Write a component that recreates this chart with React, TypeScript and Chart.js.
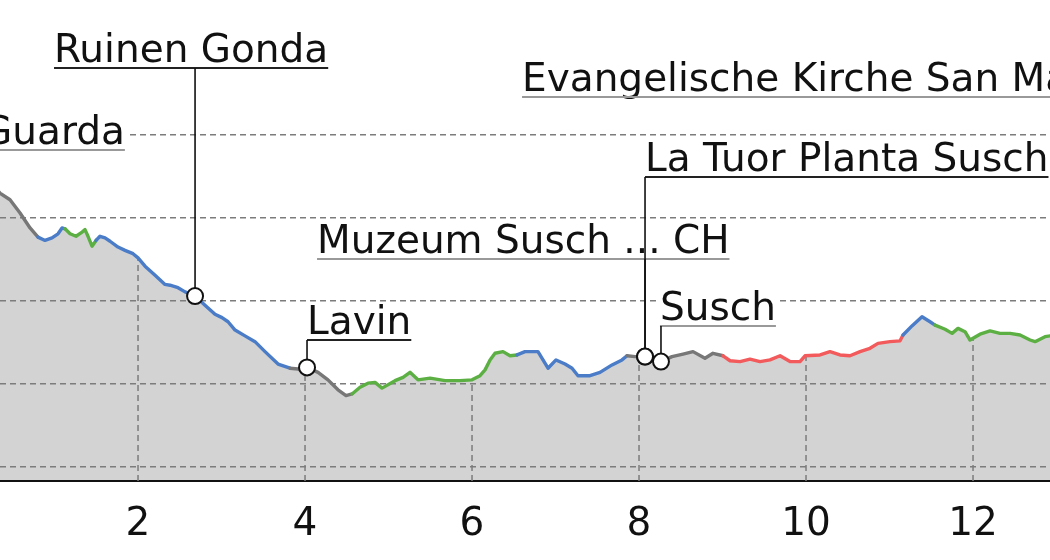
import React, { useEffect, useRef } from 'react';
import { Chart, registerables } from 'chart.js';

Chart.register(...registerables);

// Elevation profile: distance along the route (km) and elevation (m)
const distanceKm = [
  0.299, 0.347, 0.467, 0.587, 0.707, 0.802, 0.886, 0.970, 1.042, 1.090,
  1.126, 1.186, 1.257, 1.317, 1.365, 1.401, 1.449, 1.497, 1.545, 1.605,
  1.665, 1.760, 1.844, 1.940, 2.000, 2.084, 2.204, 2.323, 2.383, 2.479,
  2.563, 2.683, 2.802, 2.922, 3.006, 3.078, 3.162, 3.281, 3.401, 3.521,
  3.677, 3.820, 3.916, 4.024, 4.156, 4.275, 4.395, 4.491, 4.563, 4.659,
  4.754, 4.838, 4.922, 5.078, 5.174, 5.257, 5.353, 5.497, 5.677, 5.856,
  6.000, 6.096, 6.156, 6.216, 6.275, 6.371, 6.455, 6.539, 6.635, 6.790,
  6.910, 7.006, 7.114, 7.198, 7.269, 7.413, 7.533, 7.677, 7.796, 7.856,
  7.952, 8.072, 8.263, 8.395, 8.527, 8.647, 8.790, 8.886, 9.006, 9.090,
  9.210, 9.329, 9.449, 9.569, 9.689, 9.808, 9.928, 9.988, 10.168, 10.287,
  10.407, 10.527, 10.647, 10.766, 10.862, 11.006, 11.126, 11.162, 11.269, 11.389,
  11.485, 11.545, 11.665, 11.749, 11.820, 11.904, 11.964, 12.084, 12.204, 12.323,
  12.443, 12.563, 12.683, 12.743, 12.862, 12.982,
];
const elevationM = [
  1636, 1630, 1622, 1606, 1588, 1577, 1573, 1576, 1581, 1588,
  1587, 1581, 1578, 1582, 1586, 1578, 1566, 1573, 1578, 1576,
  1572, 1565, 1561, 1557, 1552, 1542, 1531, 1520, 1519, 1516,
  1511, 1506, 1495, 1484, 1480, 1475, 1465, 1458, 1451, 1439,
  1424, 1419, 1418, 1420, 1414, 1405, 1393, 1386, 1388, 1396,
  1401, 1402, 1395, 1404, 1408, 1414, 1405, 1407, 1404, 1404,
  1405, 1410, 1417, 1429, 1437, 1439, 1434, 1435, 1439, 1439,
  1419, 1429, 1424, 1419, 1410, 1410, 1414, 1423, 1429, 1434,
  1433, 1433, 1427, 1433, 1436, 1439, 1431, 1437, 1434, 1428,
  1427, 1430, 1427, 1429, 1434, 1427, 1427, 1434, 1435, 1439,
  1435, 1434, 1439, 1443, 1449, 1451, 1452, 1459, 1470, 1481,
  1475, 1471, 1466, 1461, 1467, 1463, 1453, 1460, 1464, 1461,
  1461, 1459, 1453, 1451, 1457, 1459,
];

// Surface / gradient classes along the route (start km of each stretch)
const segmentStartKm = [0.0, 0.802, 1.126, 1.497, 3.820, 4.563, 6.539, 7.856, 9.006, 11.162, 11.545];
const segmentClass = ['gray', 'blue', 'green', 'blue', 'gray', 'green', 'blue', 'gray', 'red', 'blue', 'green'];

// Points of interest
const poiNames = [
  'Guarda',
  'Ruinen Gonda',
  'Evangelische Kirche San Mauritius',
  'La Tuor Planta Susch',
  'Muzeum Susch ... CH',
  'Lavin',
  'Susch',
];
const poiKm = [0.05, 2.683, 13.6, 8.072, 8.072, 4.024, 8.263];
const poiElev = [1660, 1506, 1465, 1433, 1433, 1420, 1427];
// where each label's underline starts (data units)
const labelKm = [0.132, 0.994, 6.599, 8.072, 4.144, 4.024, 8.251];
const labelElev = [1681.9, 1780.7, 1745.8, 1649.4, 1550.6, 1453.0, 1469.9];
const labelMuted = [true, false, true, false, true, false, true];

const xTickValues = [2, 4, 6, 8, 10, 12];
const yGridValues = [1300, 1400, 1500, 1600, 1700];

const lineColors: Record<string, string> = {
  gray: '#777777',
  blue: '#4a7cc8',
  green: '#5cb043',
  red: '#f25a5c',
};

function classAt(km: number): string {
  let c = segmentClass[0];
  for (let i = 0; i < segmentStartKm.length; i++) {
    if (km >= segmentStartKm[i] - 1e-9) c = segmentClass[i];
  }
  return c;
}

function elevAt(km: number): number {
  for (let i = 0; i < distanceKm.length - 1; i++) {
    const a = distanceKm[i];
    const b = distanceKm[i + 1];
    if (km >= a && km <= b) {
      const t = (km - a) / (b - a);
      return elevationM[i] + t * (elevationM[i + 1] - elevationM[i]);
    }
  }
  return elevationM[elevationM.length - 1];
}

const FONT = '39px "DejaVu Sans", sans-serif';
const MARKER_R = 8;
const GRID_COLOR = '#7c7c7c';

const profilePlugin = {
  id: 'profileDecor',
  beforeDatasetsDraw(chart: any) {
    const { ctx, chartArea } = chart;
    const xs = chart.scales.x;
    const ys = chart.scales.y;
    ctx.save();
    ctx.beginPath();
    ctx.rect(chartArea.left, chartArea.top, chartArea.right - chartArea.left, chartArea.bottom - chartArea.top);
    ctx.clip();
    ctx.setLineDash([6, 4]);
    ctx.strokeStyle = GRID_COLOR;
    ctx.lineWidth = 1.5;
    for (const t of xTickValues) {
      const px = xs.getPixelForValue(t);
      const py = ys.getPixelForValue(elevAt(t));
      ctx.beginPath();
      ctx.moveTo(px, chartArea.bottom);
      ctx.lineTo(px, py);
      ctx.stroke();
    }
    ctx.restore();
  },
  afterDatasetsDraw(chart: any) {
    const { ctx } = chart;
    const xs = chart.scales.x;
    const ys = chart.scales.y;
    ctx.save();
    ctx.font = FONT;
    ctx.textBaseline = 'alphabetic';
    ctx.textAlign = 'left';
    const anchors: { mx: number; my: number; uy: number }[] = [];
    for (let i = 0; i < poiNames.length; i++) {
      const ox = xs.getPixelForValue(labelKm[i]);
      const uy = ys.getPixelForValue(labelElev[i]);
      const mx = xs.getPixelForValue(poiKm[i]);
      const my = ys.getPixelForValue(poiElev[i]);
      const w = ctx.measureText(poiNames[i]).width;
      const base = uy - 6;
      ctx.fillStyle = '#ffffff';
      ctx.fillRect(ox - 2, base - 30, w + 4, 30 + 6);
      ctx.fillStyle = '#111111';
      ctx.fillText(poiNames[i], ox, base);
      ctx.strokeStyle = labelMuted[i] ? '#999999' : '#222222';
      ctx.lineWidth = 2;
      ctx.setLineDash([]);
      ctx.beginPath();
      ctx.moveTo(Math.min(ox, mx), uy);
      ctx.lineTo(Math.max(ox + w, mx), uy);
      ctx.stroke();
      anchors.push({ mx, my, uy });
    }
    ctx.strokeStyle = '#111111';
    ctx.lineWidth = 1.6;
    for (const a of anchors) {
      ctx.beginPath();
      ctx.moveTo(a.mx, a.uy);
      ctx.lineTo(a.mx, a.my - MARKER_R);
      ctx.stroke();
    }
    ctx.restore();
  },
};

export default function App() {
  const ref = useRef<HTMLCanvasElement | null>(null);

  useEffect(() => {
    if (!ref.current) return;
    const profile = distanceKm.map((k, i) => ({ x: k, y: elevationM[i] }));
    const markers = poiKm.map((k, i) => ({ x: k, y: poiElev[i] }));
    const chart = new Chart(ref.current, {
      type: 'line',
      data: {
        datasets: [
          {
            label: 'poi',
            data: markers,
            order: 1,
            showLine: false,
            fill: false,
            pointRadius: MARKER_R,
            pointBackgroundColor: '#ffffff',
            pointBorderColor: '#111111',
            pointBorderWidth: 2,
          } as any,
          {
            label: 'profile',
            data: profile,
            order: 2,
            borderWidth: 3.4,
            borderJoinStyle: 'round',
            borderCapStyle: 'round',
            pointRadius: 0,
            tension: 0,
            fill: false,
            borderColor: lineColors.gray,
            segment: {
              borderColor: (c: any) => lineColors[classAt(distanceKm[c.p0DataIndex])],
            },
          } as any,
          {
            label: 'terrain',
            data: profile,
            order: 3,
            borderWidth: 0,
            borderColor: 'rgba(0,0,0,0)',
            pointRadius: 0,
            tension: 0,
            fill: 'start',
            backgroundColor: '#d3d3d3',
          } as any,
        ],
      },
      options: {
        responsive: false,
        animation: false,
        events: [],
        layout: { padding: 0, autoPadding: false },
        plugins: {
          legend: { display: false },
          tooltip: { enabled: false },
          filler: { drawTime: 'beforeDraw' } as any,
        },
        scales: {
          x: {
            type: 'linear',
            min: 0.347,
            max: 12.922,
            afterBuildTicks: (s: any) => {
              s.ticks = xTickValues.map((v) => ({ value: v }));
            },
            afterFit: (s: any) => {
              s.height = 79;
            },
            grid: { display: false, drawTicks: false },
            border: { display: true, color: '#111111', width: 2 },
            ticks: {
              color: '#111111',
              font: { family: 'DejaVu Sans', size: 39 },
              padding: 20,
              maxRotation: 0,
              autoSkip: false,
              callback: (v: any) => String(v),
            },
          },
          y: {
            type: 'linear',
            min: 1283.1,
            max: 1862.7,
            afterBuildTicks: (s: any) => {
              s.ticks = yGridValues.map((v) => ({ value: v }));
            },
            afterFit: (s: any) => {
              s.width = 0;
            },
            grid: { display: true, color: GRID_COLOR, lineWidth: 1.5, drawTicks: false },
            border: { display: false, dash: [6, 4] },
            ticks: { display: false },
          },
        },
      } as any,
      plugins: [profilePlugin],
    });
    return () => chart.destroy();
  }, []);

  return (
    <canvas
      ref={ref}
      width={1050}
      height={560}
      style={{ position: 'absolute', left: 0, top: 0, width: 1050, height: 560 }}
    />
  );
}
